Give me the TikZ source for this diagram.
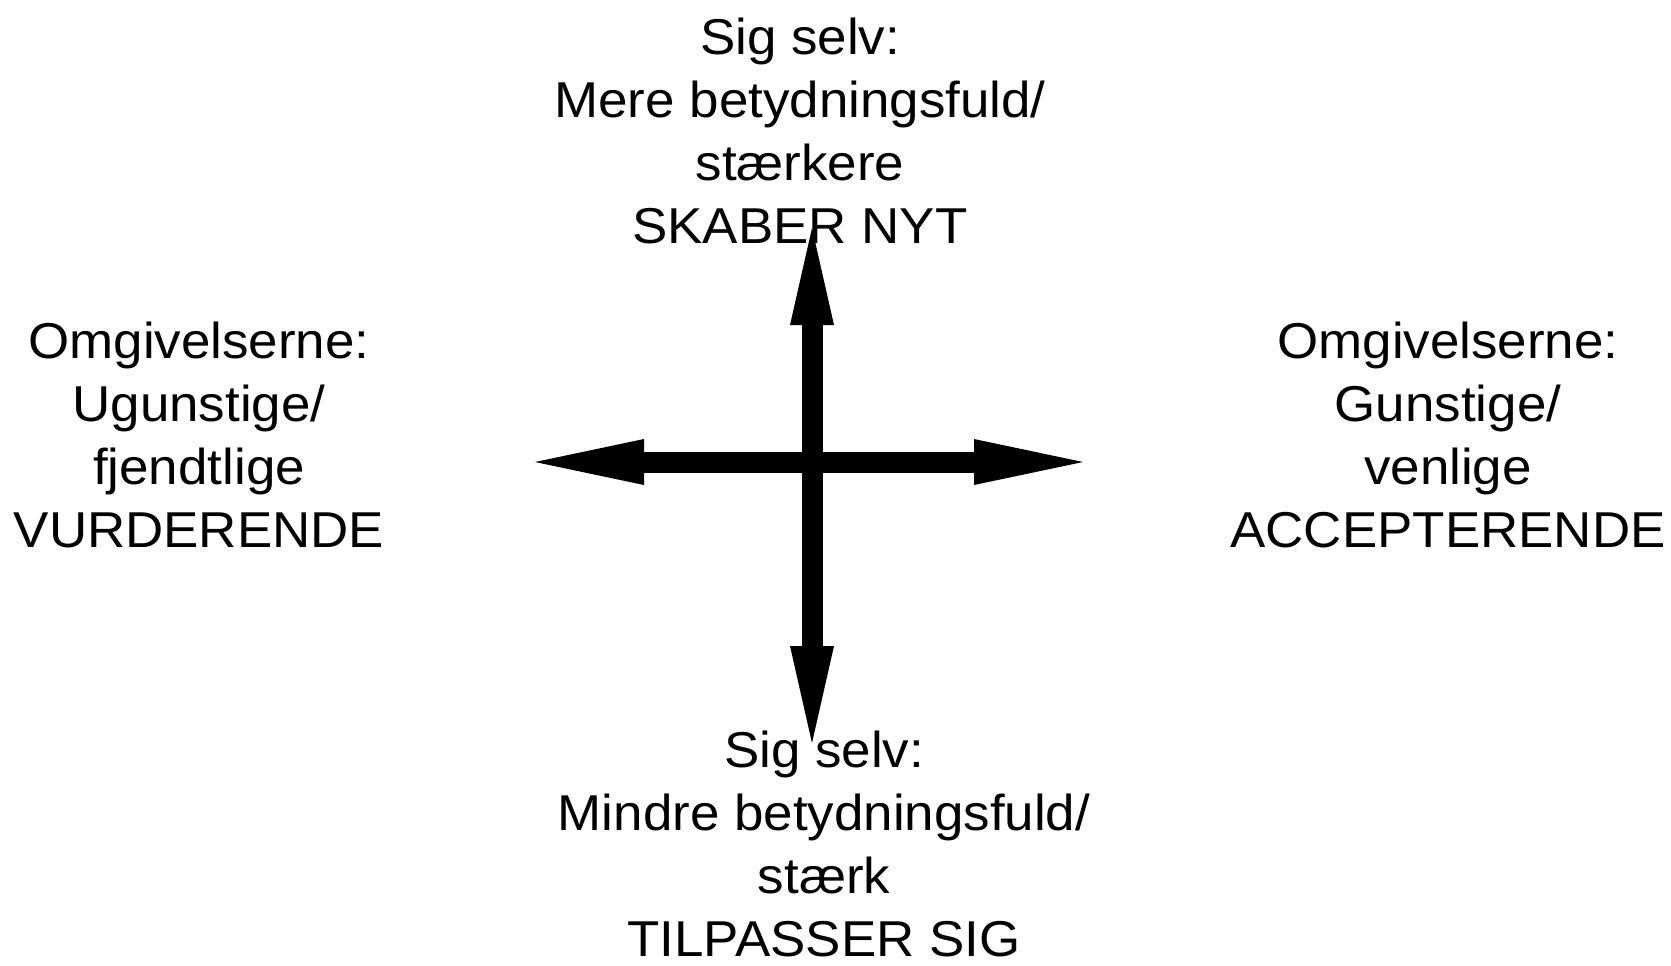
\documentclass[tikz,border=0pt]{standalone}
\usepackage{fontspec}
\setmainfont{Liberation Sans}[FakeStretch = 1.05]
\usetikzlibrary{arrows.meta}

\begin{document}
\begin{tikzpicture}[x = 0.5pt, y = -0.5pt,
    pole/.style = {align = center, inner sep = 0pt, anchor = base, font = \fontsize{25.2pt}{31.4pt}\selectfont},
    vhead/.tip = {Triangle[length = 48.5pt, width = 22pt, line width = 0pt]},
    hhead/.tip = {Triangle[length = 54.5pt, width = 23pt, line width = 0pt]},
    bar/.style = {line width = 10.5pt}]
  \useasboundingbox (0,0) rectangle (1671,965);
  \coordinate (up) at (812,228);
  \coordinate (down) at (812,743);
  \coordinate (left) at (535,462);
  \coordinate (right) at (1083,462);
  % anchor base = baseline of the last line
  \node[pole] (self-up) at (800,243) {Sig selv:\\ Mere betydningsfuld/\\ stærkere\\ SKABER NYT};
  \node[pole] (env-left) at (199,547) {Omgivelserne:\\ Ugunstige/\\ fjendtlige\\ VURDERENDE};
  \node[pole] (env-right) at (1448,547) {Omgivelserne:\\ Gunstige/\\ venlige\\ ACCEPTERENDE};
  \node[pole] (self-down) at (824,956) {Sig selv:\\ Mindre betydningsfuld/\\ stærk\\ TILPASSER SIG};
  \draw[bar, vhead-vhead] (down) -- (up);
  \draw[bar, hhead-hhead] (left) -- (right);
\end{tikzpicture}
\end{document}
